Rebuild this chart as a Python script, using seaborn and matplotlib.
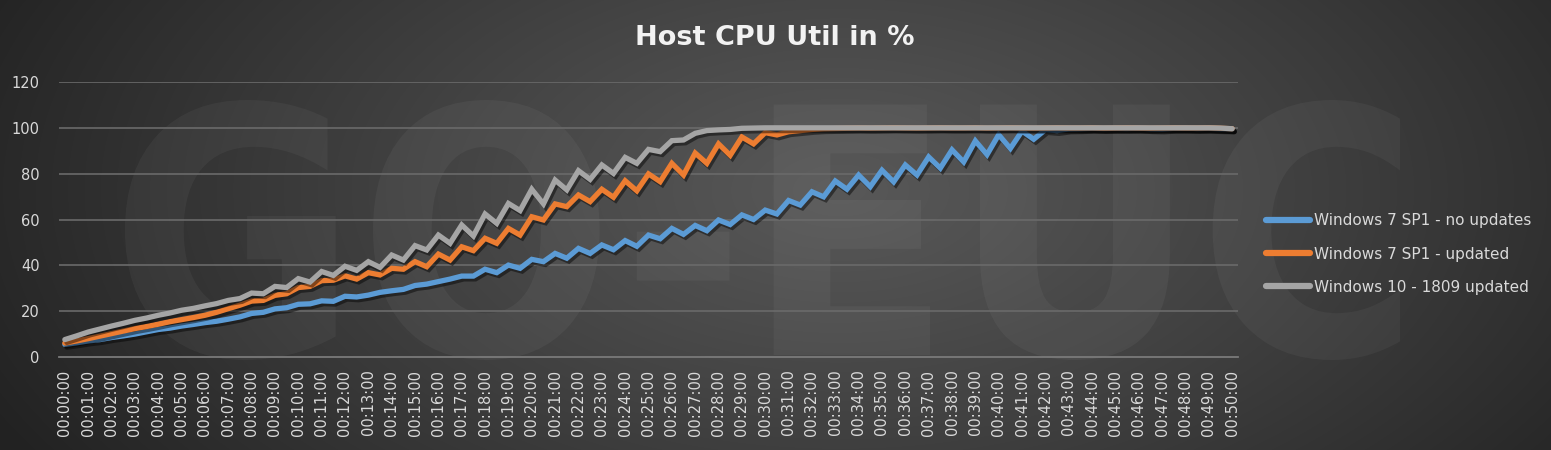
import numpy as np
import pandas as pd
import matplotlib
matplotlib.use("Agg")
import matplotlib.pyplot as plt
import matplotlib.patheffects as pe
from matplotlib.textpath import TextPath
from matplotlib.patches import PathPatch
from matplotlib.font_manager import FontProperties
from matplotlib.transforms import Affine2D
import seaborn as sns

# ---------------- data ----------------
title = "Host CPU Util in %"
series_names = ["Windows 7 SP1 - no updates", "Windows 7 SP1 - updated", "Windows 10 - 1809 updated"]
tick_labels = [f"00:{m:02d}:00" for m in range(51)]
y_ticks = [0, 20, 40, 60, 80, 100, 120]

win7_no_updates = [
    5.5, 6.2, 7.0, 7.6, 8.5, 9.2, 10.0, 11.0, 12.0, 12.6,
    13.5, 14.2, 15.0, 15.6, 16.5, 17.5, 19.0, 19.5, 21.0, 21.5,
    23.0, 23.2, 24.5, 24.3, 26.5, 26.2, 27.0, 28.2, 28.9, 29.5,
    31.2, 31.8, 32.9, 34.0, 35.3, 35.3, 38.3, 36.8, 40.1, 38.7,
    42.6, 41.6, 45.2, 43.1, 47.4, 45.2, 48.9, 46.8, 50.8, 48.3,
    53.2, 51.6, 56.1, 53.5, 57.4, 55.1, 59.8, 57.8, 62.0, 60.0,
    64.1, 62.4, 68.3, 66.3, 72.1, 69.9, 76.8, 73.2, 79.4, 74.3,
    81.5, 76.4, 83.8, 79.4, 87.3, 82.4, 90.4, 85.1, 94.3, 88.3,
    97.0, 91.0, 98.6, 95.0, 99.2, 98.8, 99.5, 99.6, 99.8, 99.7,
    99.8, 99.7, 99.9, 99.6, 99.5, 99.8, 99.9, 99.7, 99.8, 99.6,
    99.5,
]
win7_updated = [
    6.1, 7.0, 8.0, 9.1, 10.2, 11.3, 12.4, 13.3, 14.3, 15.4,
    16.3, 17.2, 18.2, 19.5, 21.1, 22.6, 24.4, 24.7, 26.9, 27.6,
    30.3, 30.8, 33.3, 33.5, 35.4, 34.0, 36.8, 35.8, 38.7, 38.3,
    41.6, 39.4, 44.9, 42.3, 48.1, 46.4, 51.8, 49.6, 56.1, 53.2,
    61.2, 59.8, 66.8, 65.6, 70.7, 67.8, 73.2, 69.7, 76.9, 72.5,
    79.9, 76.5, 84.5, 79.4, 89.0, 84.5, 93.0, 88.0, 96.0, 93.0,
    97.9, 96.9, 98.3, 98.8, 99.3, 99.6, 99.7, 99.8, 99.9, 99.8,
    99.9, 100.0, 99.9, 99.8, 99.9, 100.0, 99.9, 99.9, 100.0, 99.8,
    99.9, 100.0, 99.9, 99.8, 99.9, 100.0, 99.9, 99.9, 100.0, 99.8,
    99.9, 100.0, 99.9, 99.8, 99.9, 100.0, 99.9, 99.9, 100.0, 99.8,
    99.6,
]
win10_1809 = [
    7.6, 9.2, 10.9, 12.2, 13.5, 14.7, 16.0, 17.0, 18.2, 19.2,
    20.4, 21.2, 22.3, 23.3, 24.7, 25.5, 27.9, 27.6, 30.8, 30.3,
    34.2, 32.7, 37.3, 35.6, 39.6, 37.8, 41.6, 39.1, 44.5, 42.3,
    48.6, 46.7, 53.2, 49.6, 57.6, 52.8, 62.4, 58.3, 67.0, 63.9,
    73.2, 66.8, 77.2, 72.9, 81.3, 77.5, 83.8, 80.1, 87.1, 84.5,
    90.6, 89.6, 94.4, 94.7, 97.6, 98.8, 99.1, 99.3, 99.8, 99.9,
    100.0, 100.0, 100.0, 100.0, 100.0, 100.0, 100.0, 100.0, 100.0, 100.0,
    100.0, 100.0, 100.0, 100.0, 100.0, 100.0, 100.0, 100.0, 100.0, 100.0,
    100.0, 100.0, 100.0, 100.0, 100.0, 100.0, 100.0, 100.0, 100.0, 100.0,
    100.0, 100.0, 100.0, 100.0, 100.0, 100.0, 100.0, 100.0, 100.0, 99.9,
    99.6,
]
colors = ["#5B9BD5", "#ED7D31", "#A5A5A5"]

# ---------------- build frame ----------------
n = len(win7_no_updates)
df = pd.concat([
    pd.DataFrame({"idx": np.arange(n), "value": vals, "series": name})
    for name, vals in zip(series_names, [win7_no_updates, win7_updated, win10_1809])
])

sns.set_theme(style="dark")
plt.rcParams["font.family"] = ["DejaVu Sans"]

W, H = 1551, 450
fig = plt.figure(figsize=(W / 100, H / 100), dpi=100)

# background radial gradient
bg = fig.add_axes([0, 0, 1, 1], zorder=-10)
yy, xx = np.mgrid[0:H, 0:W]
d = np.sqrt(((xx - 840) / 950.0) ** 2 + ((yy - 190) / 520.0) ** 2)
d = np.clip(d, 0, 1)
lum = (0x58 - (0x58 - 0x22) * d ** 1.1) / 255.0
img = np.dstack([lum, lum, lum])
bg.imshow(img, extent=[0, W, 0, H], origin="upper", aspect="auto", interpolation="bilinear")
bg.set_xlim(0, W)
bg.set_ylim(0, H)
bg.axis("off")

# faint watermark drawn as a shape (background graphic)
tp = TextPath((0, 0), "GO-EUC", size=100, prop=FontProperties(family="DejaVu Sans", weight="bold"))
ext = tp.get_extents()
sx = (1400 - 125) / ext.width
sy = (360 - 100) / ext.height
tr = Affine2D().translate(-ext.x0, -ext.y0).scale(sx, sy).translate(125, H - 360)
wm = PathPatch(tr.transform_path(tp), facecolor="white", edgecolor="none", alpha=0.045)
bg.add_patch(wm)

ax = fig.add_axes([59 / W, 1 - 357 / H, (1238 - 59) / W, (357 - 82) / H])
ax.set_facecolor("none")
ax.patch.set_alpha(0)

sns.lineplot(data=df, x="idx", y="value", hue="series", palette=colors,
             hue_order=series_names, linewidth=3.8, ax=ax, legend=False,
             sort=False)
for line in ax.get_lines():
    line.set_solid_capstyle("round")
    line.set_solid_joinstyle("miter")
    line.set_path_effects([
        pe.SimpleLineShadow(offset=(1.5, -2.0), shadow_color="black", alpha=0.45),
        pe.Normal(),
    ])

ax.set_xlim(-0.5, n - 0.5)
ax.set_ylim(0, 120)
ax.set_yticks(y_ticks)
ax.set_yticklabels([str(v) for v in y_ticks])
ax.set_xticks(np.arange(0, n, 2))
ax.set_xticklabels(tick_labels, rotation=90, va="top", ha="center")
ax.tick_params(axis="both", length=0, labelsize=10.5, colors="#d9d9d9")
ax.tick_params(axis="x", pad=9)
ax.tick_params(axis="y", pad=14)
ax.set_xlabel("")
ax.set_ylabel("")
ax.grid(False)
for y in y_ticks[1:]:
    ax.axhline(y, color="#6a6a6a", linewidth=1.2, zorder=0)
for s in ["top", "right", "left"]:
    ax.spines[s].set_visible(False)
ax.spines["bottom"].set_visible(True)
ax.spines["bottom"].set_color("#7a7a7a")
ax.spines["bottom"].set_linewidth(1.3)

fig.text(775 / W, 1 - 38 / H, title, ha="center", va="center", fontsize=19.5,
         fontweight="bold", color="#f2f2f2", family="DejaVu Sans")

handles = [plt.Line2D([0], [0], color=c, linewidth=4.5, solid_capstyle="round") for c in colors]
leg = fig.legend(handles, series_names, loc="center left",
                 bbox_to_anchor=(1266 / W, 1 - 254 / H), frameon=False,
                 fontsize=11, handlelength=2.9, handletextpad=0.25,
                 labelspacing=1.2, borderpad=0, borderaxespad=0)
for t in leg.get_texts():
    t.set_color("#d9d9d9")

fig.savefig("out.png", dpi=100)
